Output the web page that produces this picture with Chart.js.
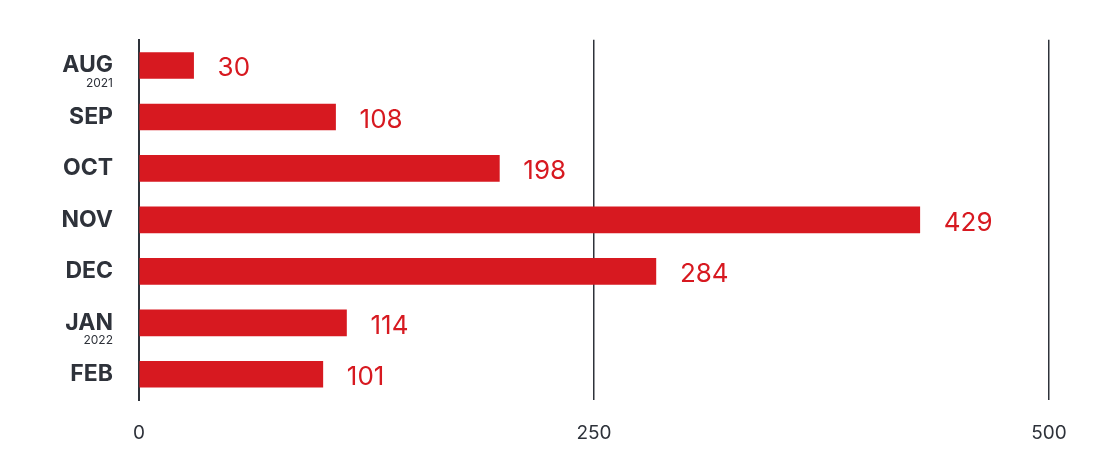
<!DOCTYPE html>
<html>
<head>
<meta charset="utf-8">
<script src="https://cdn.jsdelivr.net/npm/chart.js@4"></script>
<style>
  html, body { margin: 0; padding: 0; background: #fff; }
  #wrap { width: 1108px; height: 469px; }
</style>
</head>
<body>
<div id="wrap"><canvas id="chart"></canvas></div>
<script>
// datos del gráfico
const months = ['AUG', 'SEP', 'OCT', 'NOV', 'DEC', 'JAN', 'FEB'];
const years = ['2021', '', '', '', '', '2022', ''];
const counts = [30, 108, 198, 429, 284, 114, 101];
const xTicks = [0, 250, 500];

const RED = '#d71920';
const DARK = '#2e323a';

// etiquetas de valor y subtítulos de año
const labelsPlugin = {
    id: 'labels',
    afterDatasetsDraw(chart) {
        const ctx = chart.ctx;
        const meta = chart.getDatasetMeta(0);
        const yScale = chart.scales.y;
        ctx.save();
        ctx.textBaseline = 'middle';
        meta.data.forEach(function(bar, i) {
            ctx.fillStyle = RED;
            ctx.textAlign = 'left';
            ctx.font = '26px "Inter", "Liberation Sans", sans-serif';
            ctx.fillText(String(counts[i]), bar.x + 24, bar.y + 3);
            if (years[i]) {
                ctx.fillStyle = DARK;
                ctx.textAlign = 'right';
                ctx.font = '12px "Inter", "Liberation Sans", sans-serif';
                ctx.fillText(years[i], yScale.right - 26, bar.y + 18);
            }
        });
        ctx.restore();
    }
};

new Chart(document.getElementById('chart'), {
    type: 'bar',
    data: {
        labels: months,
        datasets: [{
            data: counts,
            backgroundColor: RED,
            barThickness: 26
        }]
    },
    options: {
        indexAxis: 'y',
        responsive: true,
        maintainAspectRatio: false,
        animation: false,
        layout: { padding: { top: 36, right: 59, left: 0, bottom: 0 } },
        plugins: { legend: { display: false }, tooltip: { enabled: false } },
        scales: {
            x: {
                min: 0,
                max: 500,
                afterBuildTicks(scale) { scale.ticks = xTicks.map(v => ({ value: v })); },
                afterFit(scale) { scale.height = 69; },
                border: { display: false },
                grid: {
                    drawTicks: false,
                    color: ctx => ctx.tick && ctx.tick.value === 0 ? 'rgba(0,0,0,0)' : DARK,
                    lineWidth: 1.5,
                    borderDash: [2, 6]
                },
                ticks: {
                    padding: 22,
                    color: DARK,
                    font: { family: 'Inter, "Liberation Sans", sans-serif', size: 19 }
                }
            },
            y: {
                afterFit(scale) { scale.width = 139; },
                border: { display: true, color: DARK, width: 2 },
                grid: { display: false, drawTicks: false },
                ticks: {
                    padding: 26,
                    color: DARK,
                    font: { family: 'Inter, "Liberation Sans", sans-serif', size: 23, weight: 'bold' }
                }
            }
        }
    },
    plugins: [labelsPlugin]
});
</script>
</body>
</html>
